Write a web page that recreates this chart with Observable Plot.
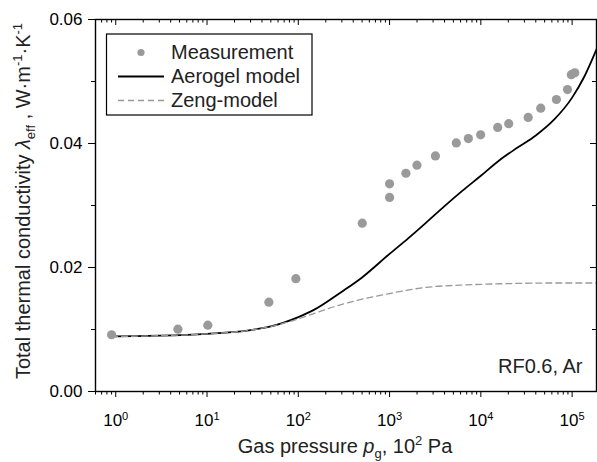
<!DOCTYPE html>
<html><head><meta charset="utf-8">
<script src="https://cdn.jsdelivr.net/npm/d3@7"></script>
<script src="https://cdn.jsdelivr.net/npm/@observablehq/plot@0.6"></script>
<style>
body{margin:0;background:#fff}
svg{font-family:"Liberation Sans",Arial,Helvetica,sans-serif}
</style>
</head><body><div id="chart"></div>
<script>
// Measurements (pressure in 10^2 Pa, conductivity W/(m·K))
const measP = [0.9, 4.8, 10.2, 47.6, 94, 502, 1000, 1000, 1510, 1995, 3180, 5380, 7300, 9950, 15300, 20200, 33000, 45300, 67300, 89000, 98000, 107000];
const measV = [0.00915, 0.01005, 0.0107, 0.0144, 0.0182, 0.02715, 0.0313, 0.0335, 0.0352, 0.0365, 0.0380, 0.0401, 0.0408, 0.0414, 0.0426, 0.0432, 0.0442, 0.0457, 0.0471, 0.0487, 0.0511, 0.0514];
// Aerogel model
const aeroP = [0.9, 1, 3, 10, 30, 50, 100, 150, 300, 500, 1000, 1600, 2500, 4000, 6300, 10000, 16000, 25000, 40000, 63000, 100000, 134000, 185000];
const aeroV = [0.0089, 0.0089, 0.0090, 0.0093, 0.0099, 0.0105, 0.0120, 0.0132, 0.0161, 0.0184, 0.0222, 0.0247, 0.0272, 0.0299, 0.0324, 0.0348, 0.0373, 0.0393, 0.0413, 0.0438, 0.0474, 0.0506, 0.0552];
// Zeng model
const zengP = [0.9, 1, 3, 10, 30, 50, 100, 150, 250, 500, 1000, 1800, 3000, 7000, 20000, 60000, 185000];
const zengV = [0.0089, 0.0089, 0.0090, 0.0093, 0.0099, 0.0105, 0.0117, 0.0126, 0.0137, 0.0149, 0.0158, 0.0165, 0.0169, 0.0172, 0.0174, 0.0175, 0.0175];

const xMajor = [1, 10, 100, 1000, 10000, 100000];
const xMinor = [0.6, 0.7, 0.8, 0.9].concat(xMajor.slice(0, 5).flatMap(d => [2,3,4,5,6,7,8,9].map(k => k * d)));
const yMajor = [0, 0.02, 0.04, 0.06];
const yMinor = [0.01, 0.03, 0.05];
const legendLabels = ["Measurement", "Aerogel model", "Zeng-model"];
const annotation = ["RF0.6, Ar"];

const meas = measP.map((p, i) => ({p, v: measV[i]}));
const aero = aeroP.map((p, i) => ({p, v: aeroV[i]}));
const zeng = zengP.map((p, i) => ({p, v: zengV[i]}));

const W = 597, H = 462, mL = 95, mR = 1, mT = 19, mB = 71;
const pw = W - mL - mR, ph = H - mT - mB;

const chart = Plot.plot({
  width: W, height: H,
  marginLeft: mL, marginRight: mR, marginTop: mT, marginBottom: mB,
  style: {fontSize: "17px", fontFamily: "Liberation Sans, Arial, sans-serif", background: "#fff", color: "#000"},
  x: {type: "log", domain: [0.6, 1.85e5]},
  y: {domain: [0, 0.06]},
  marks: [
    Plot.line(aero, {x: "p", y: "v", stroke: "#000", strokeWidth: 1.8, curve: "monotone-x"}),
    Plot.line(zeng, {x: "p", y: "v", stroke: "#999", strokeWidth: 1.3, strokeDasharray: "6,4", curve: "monotone-x"}),
    Plot.dot(meas, {x: "p", y: "v", r: 4.6, fill: "#9a9a9a"}),
    Plot.axisX(xMajor, {tickSize: 6, tickPadding: 16, fontSize: 17, tickFormat: d => "10^" + Math.round(Math.log10(d)), label: null}),
    Plot.axisX(xMinor, {tickSize: 3.5, tickFormat: () => "", label: null}),
    Plot.tickX(xMajor, {x: d => d, insetBottom: ph - 6, stroke: "#000"}),
    Plot.tickX(xMinor, {x: d => d, insetBottom: ph - 3.5, stroke: "#000"}),
    Plot.axisY(yMajor, {tickSize: 7, tickPadding: 6, fontSize: 17, tickFormat: d3.format(".2f"), label: null}),
    Plot.axisY(yMinor, {tickSize: 4, tickFormat: () => "", label: null}),
    Plot.tickY(yMajor, {y: d => d, insetLeft: pw - 6, stroke: "#000"}),
    Plot.tickY(yMinor, {y: d => d, insetLeft: pw - 4, stroke: "#000"}),
    Plot.text(annotation, {frameAnchor: "bottom-right", dx: -14, dy: -19, fontSize: 20, lineAnchor: "bottom", fill: "#222"}),
    Plot.frame({stroke: "#000", strokeWidth: 1.4})
  ]
});
document.getElementById("chart").appendChild(chart);

const svg = d3.select(chart);
// superscript tick labels
svg.selectAll('g[aria-label="x-axis tick label"] text').each(function() {
  const t = this.textContent;
  if (!t.includes("^")) return;
  const [b, e] = t.split("^");
  const s = d3.select(this);
  s.text(null);
  s.append("tspan").text(b);
  s.append("tspan").attr("dy", "-0.5em").attr("font-size", "0.65em").text(e);
});

// Axis titles
const xt = svg.append("text").attr("x", 345).attr("y", 453).attr("text-anchor", "middle")
  .attr("font-size", 20).attr("fill", "#222");
xt.append("tspan").text("Gas pressure ");
xt.append("tspan").attr("font-style", "italic").text("p");
xt.append("tspan").attr("font-size", "0.65em").attr("dy", "0.35em").text("g");
xt.append("tspan").attr("dy", "-0.23em").text(", 10");
xt.append("tspan").attr("font-size", "0.65em").attr("dy", "-0.6em").text("2");
xt.append("tspan").attr("dy", "0.39em").text(" Pa");

const yt = svg.append("text").attr("transform", "translate(30,201) rotate(-90)").attr("text-anchor", "middle")
  .attr("font-size", 20).attr("fill", "#222");
yt.append("tspan").text("Total thermal conductivity ");
yt.append("tspan").attr("font-style", "italic").text("λ");
yt.append("tspan").attr("font-size", "0.65em").attr("dy", "0.35em").text("eff");
yt.append("tspan").attr("dy", "-0.23em").text(" , W·m");
yt.append("tspan").attr("font-size", "0.65em").attr("dy", "-0.6em").text("-1");
yt.append("tspan").attr("dy", "0.39em").text("·K");
yt.append("tspan").attr("font-size", "0.65em").attr("dy", "-0.6em").text("-1");

// Legend
const lg = svg.append("g").attr("text-anchor", "start");
lg.append("rect").attr("x", 106.5).attr("y", 34).attr("width", 205.5).attr("height", 81)
  .attr("fill", "#fff").attr("stroke", "#000").attr("stroke-width", 1.2);
lg.append("circle").attr("cx", 141).attr("cy", 52.5).attr("r", 3.6).attr("fill", "#9a9a9a");
lg.append("line").attr("x1", 118).attr("x2", 164).attr("y1", 76.5).attr("y2", 76.5).attr("stroke", "#000").attr("stroke-width", 1.8);
lg.append("line").attr("x1", 118).attr("x2", 164).attr("y1", 100.5).attr("y2", 100.5).attr("stroke", "#999").attr("stroke-width", 1.3).attr("stroke-dasharray", "6,4");
[58.5, 82.5, 106.5].forEach((y, i) => {
  lg.append("text").attr("x", 171).attr("y", y).attr("text-anchor", "start").attr("font-size", 20).attr("fill", "#222").text(legendLabels[i]);
});
</script>
</body></html>
